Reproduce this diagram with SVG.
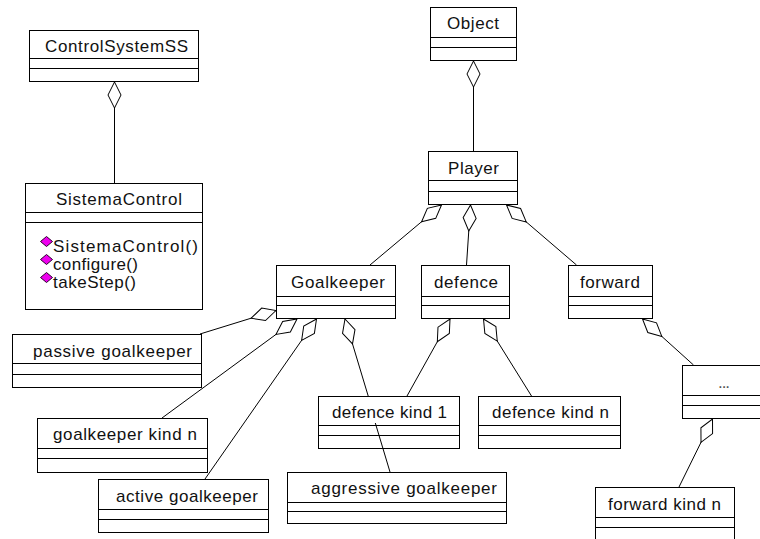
<svg xmlns="http://www.w3.org/2000/svg" width="760" height="539" viewBox="0 0 760 539">
<style>
.box{fill:#fff;stroke:#000;stroke-width:1}
.sep{stroke:#000;stroke-width:1}
.t{font-family:"Liberation Sans",Arial,sans-serif;font-size:17px;fill:#111}
.c{fill:none;stroke:#000;stroke-width:1;marker-start:url(#agg)}
.ic{fill:#ee00ee;stroke:#2a002a;stroke-width:1}
</style>
<defs>
<marker id="agg" viewBox="-1 -8 28 16" markerWidth="28" markerHeight="16" refX="0" refY="0" orient="auto" markerUnits="userSpaceOnUse">
<path d="M0,0 L13,-6.5 L26,0 L13,6.5 Z" fill="#fff" stroke="#000" stroke-width="1"/>
</marker>
</defs>
<rect width="760" height="539" fill="#fff"/>

<g id="ControlSystemSS">
<rect class="box" x="29.5" y="30.5" width="169" height="51"/>
<line class="sep" x1="29.5" y1="58.5" x2="198.5" y2="58.5"/>
<line class="sep" x1="29.5" y1="68.5" x2="198.5" y2="68.5"/>
<text class="t" x="45" y="52" textLength="143" lengthAdjust="spacing">ControlSystemSS</text>
</g>

<g id="SistemaControl">
<rect class="box" x="25.5" y="183.5" width="177" height="126"/>
<line class="sep" x1="25.5" y1="212.5" x2="202.5" y2="212.5"/>
<line class="sep" x1="25.5" y1="222.5" x2="202.5" y2="222.5"/>
<text class="t" x="56" y="205" textLength="126" lengthAdjust="spacing">SistemaControl</text>
<polygon class="ic" points="40.5,241.5 46.5,236.5 52.5,241.5 46.5,246.5"/>
<text class="t" x="53" y="251.5" textLength="145" lengthAdjust="spacing">SistemaControl()</text>
<polygon class="ic" points="40.5,259.5 46.5,254.5 52.5,259.5 46.5,264.5"/>
<text class="t" x="53" y="269.5" textLength="85" lengthAdjust="spacing">configure()</text>
<polygon class="ic" points="40.5,277.5 46.5,272.5 52.5,277.5 46.5,282.5"/>
<text class="t" x="53" y="287.5" textLength="83" lengthAdjust="spacing">takeStep()</text>
</g>

<g id="Object">
<rect class="box" x="430.5" y="7.5" width="86" height="53"/>
<line class="sep" x1="430.5" y1="37.5" x2="516.5" y2="37.5"/>
<line class="sep" x1="430.5" y1="47.5" x2="516.5" y2="47.5"/>
<text class="t" x="447" y="29" textLength="52" lengthAdjust="spacing">Object</text>
</g>

<g id="Player">
<rect class="box" x="428.5" y="151.5" width="89" height="53"/>
<line class="sep" x1="428.5" y1="180.5" x2="517.5" y2="180.5"/>
<line class="sep" x1="428.5" y1="191.5" x2="517.5" y2="191.5"/>
<text class="t" x="448" y="174" textLength="51" lengthAdjust="spacing">Player</text>
</g>

<g id="Goalkeeper">
<rect class="box" x="276.5" y="265.5" width="119" height="53"/>
<line class="sep" x1="276.5" y1="296.5" x2="395.5" y2="296.5"/>
<line class="sep" x1="276.5" y1="305.5" x2="395.5" y2="305.5"/>
<text class="t" x="291" y="288" textLength="94" lengthAdjust="spacing">Goalkeeper</text>
</g>

<g id="defence">
<rect class="box" x="421.5" y="265.5" width="88" height="53"/>
<line class="sep" x1="421.5" y1="296.5" x2="509.5" y2="296.5"/>
<line class="sep" x1="421.5" y1="305.5" x2="509.5" y2="305.5"/>
<text class="t" x="434" y="288" textLength="64" lengthAdjust="spacing">defence</text>
</g>

<g id="forward">
<rect class="box" x="568.5" y="265.5" width="84" height="53"/>
<line class="sep" x1="568.5" y1="296.5" x2="652.5" y2="296.5"/>
<line class="sep" x1="568.5" y1="305.5" x2="652.5" y2="305.5"/>
<text class="t" x="580" y="288" textLength="60" lengthAdjust="spacing">forward</text>
</g>

<g id="passive_goalkeeper">
<rect class="box" x="12.5" y="334.5" width="189" height="53"/>
<line class="sep" x1="12.5" y1="363.5" x2="201.5" y2="363.5"/>
<line class="sep" x1="12.5" y1="374.5" x2="201.5" y2="374.5"/>
<text class="t" x="33" y="357" textLength="159" lengthAdjust="spacing">passive goalkeeper</text>
</g>

<g id="goalkeeper_kind_n">
<rect class="box" x="37.5" y="418.5" width="170" height="54"/>
<line class="sep" x1="37.5" y1="448.5" x2="207.5" y2="448.5"/>
<line class="sep" x1="37.5" y1="458.5" x2="207.5" y2="458.5"/>
<text class="t" x="53" y="440" textLength="144" lengthAdjust="spacing">goalkeeper kind n</text>
</g>

<g id="active_goalkeeper">
<rect class="box" x="98.5" y="479.5" width="170" height="53"/>
<line class="sep" x1="98.5" y1="509.5" x2="268.5" y2="509.5"/>
<line class="sep" x1="98.5" y1="519.5" x2="268.5" y2="519.5"/>
<text class="t" x="116" y="502" textLength="142" lengthAdjust="spacing">active goalkeeper</text>
</g>

<g id="defence_kind_1">
<rect class="box" x="318.5" y="396.5" width="141" height="52"/>
<line class="sep" x1="318.5" y1="425.5" x2="459.5" y2="425.5"/>
<line class="sep" x1="318.5" y1="435.5" x2="459.5" y2="435.5"/>
<text class="t" x="332" y="418" textLength="115" lengthAdjust="spacing">defence kind 1</text>
</g>

<g id="defence_kind_n">
<rect class="box" x="478.5" y="396.5" width="142" height="52"/>
<line class="sep" x1="478.5" y1="425.5" x2="620.5" y2="425.5"/>
<line class="sep" x1="478.5" y1="435.5" x2="620.5" y2="435.5"/>
<text class="t" x="492" y="418" textLength="117" lengthAdjust="spacing">defence kind n</text>
</g>

<g id="aggressive_goalkeeper">
<rect class="box" x="287.5" y="472.5" width="219" height="51"/>
<line class="sep" x1="287.5" y1="502.5" x2="506.5" y2="502.5"/>
<line class="sep" x1="287.5" y1="511.5" x2="506.5" y2="511.5"/>
<text class="t" x="311" y="494" textLength="186" lengthAdjust="spacing">aggressive goalkeeper</text>
</g>

<g id="ellipsis">
<rect class="box" x="682.5" y="365.5" width="100" height="53"/>
<line class="sep" x1="682.5" y1="395.5" x2="782.5" y2="395.5"/>
<line class="sep" x1="682.5" y1="405.5" x2="782.5" y2="405.5"/>
<text class="t" x="718" y="388" textLength="12" lengthAdjust="spacing" style="fill:#555">...</text>
</g>

<g id="forward_kind_n">
<rect class="box" x="595.5" y="487.5" width="139" height="60"/>
<line class="sep" x1="595.5" y1="517.5" x2="734.5" y2="517.5"/>
<line class="sep" x1="595.5" y1="527.5" x2="734.5" y2="527.5"/>
<text class="t" x="608" y="510" textLength="113" lengthAdjust="spacing">forward kind n</text>
</g>

<g id="connectors">
<path class="c" d="M114.5,82 L114.5,183"/>
<path class="c" d="M473.5,61 L473.5,151"/>
<path class="c" d="M441.5,205 L370,265"/>
<path class="c" d="M470.5,205 L466.5,265"/>
<path class="c" d="M506.5,205 L576.5,265"/>
<path class="c" d="M276,310.5 L200,334"/>
<path class="c" d="M297,319 L162,418"/>
<path class="c" d="M316.5,319 L205,479"/>
<path class="c" d="M345,319 L368.2,396 M375.3,423 L390,472"/>
<path class="c" d="M450,319 L407,396"/>
<path class="c" d="M483.5,319 L531.5,396"/>
<path class="c" d="M642.5,319 L693.5,365"/>
<path class="c" d="M712.5,419 L679,487"/>
</g>
</svg>
